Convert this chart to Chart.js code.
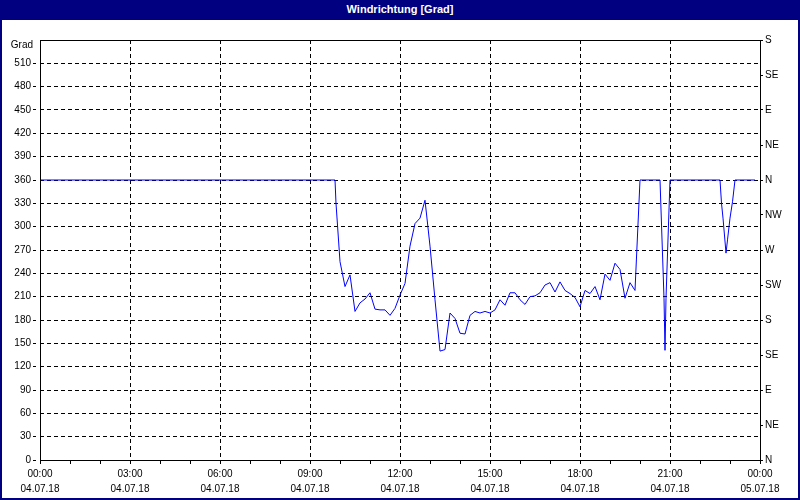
<!DOCTYPE html>
<html><head><meta charset="utf-8">
<script src="https://cdn.jsdelivr.net/npm/chart.js@4"></script>
<style>
html,body{margin:0;padding:0;background:#fff;}
#frame{position:absolute;left:0;top:0;width:800px;height:500px;box-sizing:border-box;border:2px solid #000080;border-top:none;background:#fff;}
#title{height:17px;padding-top:3px;line-height:18px;background:#000080;color:#fff;font:bold 11px "Liberation Sans",Arial,sans-serif;text-align:center;}
#wrap{position:relative;width:796px;height:478px;}
</style></head>
<body><div id="frame"><div id="title">Windrichtung [Grad]</div><div id="wrap"><canvas id="c" width="796" height="478"></canvas></div></div>
<script>
const chartTitle = 'Windrichtung [Grad]';
const yUnit = 'Grad';
// time in minutes since 04.07.18 00:00
const minutes = [
 0,10,20,30,40,50,60,70,80,90,
 100,110,120,130,140,150,160,170,180,190,
 200,210,220,230,240,250,260,270,280,290,
 300,310,320,330,340,350,360,370,380,390,
 400,410,420,430,440,450,460,470,480,490,
 500,510,520,530,540,550,560,570,580,590,
 592,600,610,620,630,640,650,660,670,680,690,
 700,710,720,730,740,750,760,770,780,790,
 800,810,820,830,840,850,860,870,880,890,
 900,910,920,930,940,950,960,970,980,990,
 1000,1010,1020,1030,1040,1050,1060,1070,1080,1090,
 1100,1110,1120,1130,1140,1150,1160,1170,1180,1190,
 1200,1210,1220,1230,1240,1248,1250,1252,1260,1270,1280,1290,
 1300,1310,1320,1330,1340,1350,1360,1363,1366,1372,1375,1380,1385,1390,
 1400,1410,1420,1430
];
const direction = [
 360,360,360,360,360,360,360,360,360,360,
 360,360,360,360,360,360,360,360,360,360,
 360,360,360,360,360,360,360,360,360,360,
 360,360,360,360,360,360,360,360,360,360,
 360,360,360,360,360,360,360,360,360,360,
 360,360,360,360,360,360,360,360,360,360,
 330,255,223,238,191,202,207,215,194,193,193,
 186,195,212,227,275,304,311,334,275,206,
 140,142,189,182,163,162,186,191,189,191,
 189,193,206,199,215,215,206,200,210,211,
 215,225,228,216,229,218,214,209,197,218,
 214,223,206,239,231,253,245,208,228,218,
 360,360,360,360,360,208,141,208,360,360,360,360,
 360,360,360,360,360,360,360,330,311,266,283,311,332,360,
 360,360,360,360
];
const timeTickLabels = ['00:00','03:00','06:00','09:00','12:00','15:00','18:00','21:00','00:00'];
const dateTickLabels = ['04.07.18','04.07.18','04.07.18','04.07.18','04.07.18','04.07.18','04.07.18','04.07.18','05.07.18'];
const compassLabels = ['N','NE','E','SE','S','SW','W','NW','N','NE','E','SE','S'];

const points = minutes.map((m, i) => ({x: m, y: direction[i]}));
const fontFamily = '"Liberation Sans", Arial, sans-serif';
const font = {family: fontFamily, size: 10};

const framePlugin = {
  id: 'frame',
  afterDatasetsDraw(chart) {
    const {ctx, chartArea: a} = chart;
    ctx.save();
    ctx.strokeStyle = '#000';
    ctx.lineWidth = 1;
    ctx.setLineDash([]);
    ctx.strokeRect(Math.round(a.left) + 0.5, Math.round(a.top) + 0.5, Math.round(a.right - a.left), Math.round(a.bottom - a.top));
    // unit label of the left axis
    ctx.fillStyle = '#000';
    ctx.font = '10px ' + fontFamily;
    ctx.textAlign = 'right';
    ctx.textBaseline = 'middle';
    ctx.fillText(yUnit, a.left - 7, a.top + 5);
    ctx.restore();
  }
};

new Chart(document.getElementById('c'), {
  type: 'line',
  data: {
    datasets: [{
      label: chartTitle,
      data: points,
      borderColor: '#0000FF',
      borderWidth: 1,
      pointRadius: 0,
      tension: 0,
      fill: false
    }]
  },
  options: {
    responsive: false,
    animation: false,
    layout: {padding: {top: 20, left: 0, right: 0, bottom: 0}},
    plugins: {legend: {display: false}, tooltip: {enabled: false}, title: {display: false}},
    scales: {
      x: {
        type: 'linear',
        min: 0, max: 1440,
        afterFit(s) { s.height = 38; },
        border: {display: false, dash: [4, 3]},
        grid: {
          color: c => (c.tick && c.tick.value % 180 === 0 && c.tick.value > 0 && c.tick.value < 1440) ? '#000' : 'rgba(0,0,0,0)',
          lineWidth: 1,
          drawTicks: true,
          tickLength: 4,
          tickColor: '#000',
          tickBorderDash: []
        },
        ticks: {
          stepSize: 60,
          autoSkip: false,
          maxRotation: 0,
          padding: 3,
          color: '#000',
          font: {family: fontFamily, size: 10, lineHeight: 1.45},
          callback: v => (v % 180 === 0) ? [timeTickLabels[v / 180], dateTickLabels[v / 180]] : ''
        }
      },
      y: {
        type: 'linear',
        position: 'left',
        min: 0, max: 540,
        afterFit(s) { s.width = 38; },
        border: {display: false, dash: [4, 3]},
        grid: {
          color: c => (c.tick && c.tick.value > 0 && c.tick.value < 540) ? '#000' : 'rgba(0,0,0,0)',
          lineWidth: 1,
          tickLength: 7,
          tickColor: c => (c.tick && c.tick.value < 540) ? '#000' : 'rgba(0,0,0,0)',
          tickBorderDash: [3, 4]
        },
        ticks: {
          stepSize: 30,
          autoSkip: false,
          padding: 2,
          color: '#000',
          font: font,
          callback: v => v === 540 ? '' : String(v)
        }
      },
      y2: {
        type: 'linear',
        position: 'right',
        min: 0, max: 540,
        afterFit(s) { s.width = 38; },
        border: {display: false},
        grid: {
          drawOnChartArea: false,
          tickLength: 3,
          tickColor: '#000',
          tickBorderDash: []
        },
        ticks: {
          stepSize: 45,
          autoSkip: false,
          padding: 2,
          color: '#000',
          font: font,
          callback: v => compassLabels[Math.round(v / 45)]
        }
      }
    }
  },
  plugins: [framePlugin]
});
</script>
</body></html>
